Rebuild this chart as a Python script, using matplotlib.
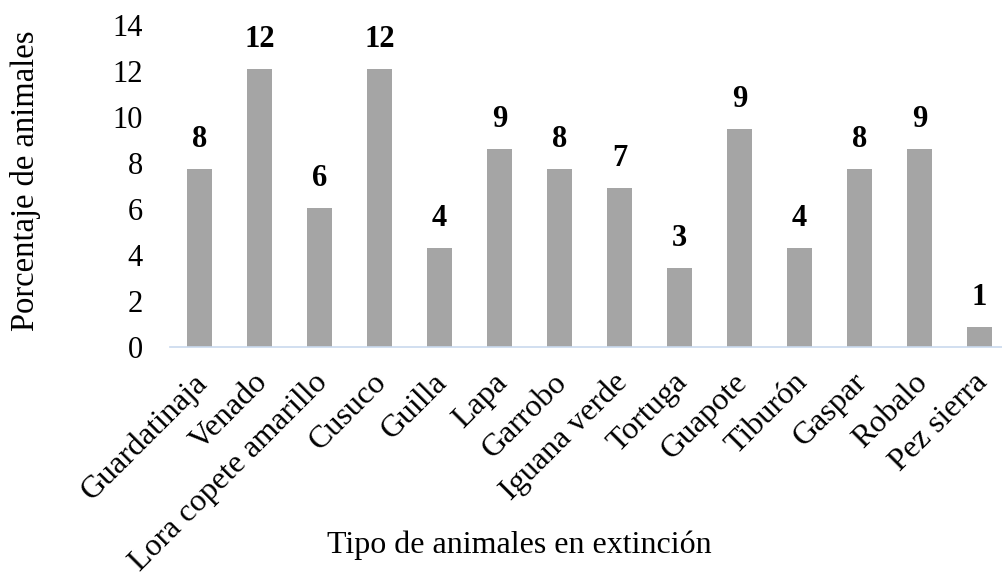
import matplotlib.pyplot as plt
import matplotlib.transforms as mtransforms
import numpy as np

## data
animales = ['Guardatinaja', 'Venado', 'Lora copete amarillo', 'Cusuco', 'Guilla', 'Lapa',
            'Garrobo', 'Iguana verde', 'Tortuga', 'Guapote', 'Tiburón', 'Gaspar', 'Robalo', 'Pez sierra']
porcentaje = [7.76, 12.07, 6.03, 12.07, 4.31, 8.62, 7.76, 6.90, 3.45, 9.48, 4.31, 7.76, 8.62, 0.86]
yticks = [0, 2, 4, 6, 8, 10, 12, 14]

plt.rcParams['font.family'] = ['Liberation Serif', 'DejaVu Serif']

fig = plt.figure(figsize=(10.03, 5.75), dpi=100)
ax = fig.add_axes([0.169, 0.3965, 0.8375, 0.56])

x = np.arange(len(animales))
ax.bar(x, porcentaje, width=25/60, color='#A5A5A5', zorder=2)

# value labels
for xi, v in zip(x, porcentaje):
    ax.text(xi, v + 0.65, '%.0f' % v, ha='center', va='bottom', fontsize=22, fontweight='bold')

ax.set_xlim(-0.5, len(animales) - 0.5)
ax.set_ylim(0, 14)
ax.set_yticks(yticks)
ax.set_yticklabels([str(t) for t in yticks], fontsize=22)
ax.set_xticks(x)
ax.set_xticklabels(animales, rotation=45, ha='right', rotation_mode='anchor', fontsize=23)
ax.tick_params(axis='both', length=0)
ax.tick_params(axis='y', pad=19)
ax.tick_params(axis='x', pad=15)
# small shift of category labels to the left
off = mtransforms.ScaledTranslation(-5/72, 0, fig.dpi_scale_trans)
for lab in ax.get_xticklabels():
    lab.set_transform(lab.get_transform() + off)

for s in ['top', 'right', 'left']:
    ax.spines[s].set_visible(False)
ax.spines['bottom'].set_color('#C9D9EE')
ax.spines['bottom'].set_linewidth(1.2)

fig.text(0.025, 0.685, 'Porcentaje de animales', rotation=90, ha='center', va='center', fontsize=23.5)
fig.text(0.518, 0.052, 'Tipo de animales en extinción', ha='center', va='center', fontsize=23)

fig.savefig('out.png', dpi=100)
